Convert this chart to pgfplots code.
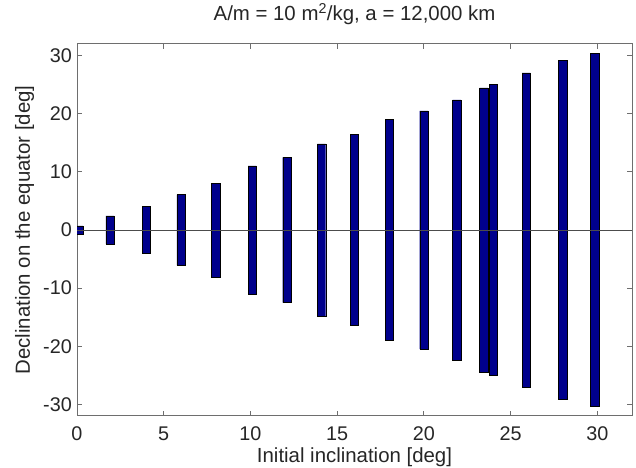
\documentclass[border=0pt]{standalone}
\usepackage{fontspec}
\setmainfont{Liberation Sans}
\usepackage{pgfplots}
\pgfplotsset{compat=1.18}
\definecolor{barblue}{RGB}{0,0,140}
\definecolor{axgray}{RGB}{110,110,110}
\begin{document}
\fontsize{19.5}{23}\selectfont
\begin{tikzpicture}
\begin{axis}[
  scale only axis, width=555pt, height=372pt,
  xmin=0, xmax=32, ymin=-32, ymax=32,
  xtick={0,5,...,30}, ytick={-30,-20,...,30},
  tick align=inside, major tick length=5pt,
  axis line style={axgray, line width=1pt},
  tick style={axgray, line width=0.8pt},
  ticklabel style={font=\fontsize{19.8}{23}\selectfont, text=black!85},
  /pgf/number format/assume math mode=true,
  xticklabel style={anchor=base, yshift=-24.7pt, inner sep=0pt},
  yticklabel style={anchor=east, inner sep=0pt, xshift=-5pt},
  title={A/m = 10 m\textsuperscript{2}/kg, a = 12,000 km},
  title style={at={(axis description cs:0.5,1.0457)}, anchor=base, inner sep=0pt, font=\fontsize{20.4}{24}\selectfont, text=black!85},
  xlabel={Initial inclination [deg]},
  xlabel style={at={(axis description cs:0.5,-0.1237)}, anchor=base, inner sep=0pt, font=\fontsize{20.4}{24}\selectfont, text=black!85},
  ylabel={Declination on the equator [deg]},
  ylabel style={at={(axis description cs:-0.0847,0.5)}, anchor=base, rotate=0, inner sep=0pt, font=\fontsize{20.4}{24}\selectfont, text=black!85},
]
\addplot[ybar, bar width=0.48, bar shift=0pt, fill=barblue, draw=black, line width=0.4pt] coordinates {
(0.1,0.7) (1.9,2.45) (4,4.05) (6,6.1) (8,8.05) (10.1,11.05) (12.1,12.5) (14.1,14.8) (16,16.4) (18,19.0) (20,20.5) (21.9,22.4) (23.45,24.45) (24,25.0) (25.9,27.05) (28,29.15) (29.85,30.4)
};
\addplot[ybar, bar width=0.48, bar shift=0pt, fill=barblue, draw=black, line width=0.4pt] coordinates {
(0.1,-0.7) (1.9,-2.45) (4,-4.05) (6,-6.1) (8,-8.05) (10.1,-11.05) (12.1,-12.5) (14.1,-14.8) (16,-16.4) (18,-19.0) (20,-20.5) (21.9,-22.4) (23.45,-24.45) (24,-25.0) (25.9,-27.05) (28,-29.15) (29.85,-30.4)
};
\addplot[gray!60!black, line width=0.7pt] coordinates {(0,0) (32,0)};
\end{axis}
\pgfresetboundingbox
\path ([shift={(-77pt,-52pt)}]current axis.south west) rectangle ([shift={(4pt,44pt)}]current axis.north east);
\end{tikzpicture}
\end{document}
